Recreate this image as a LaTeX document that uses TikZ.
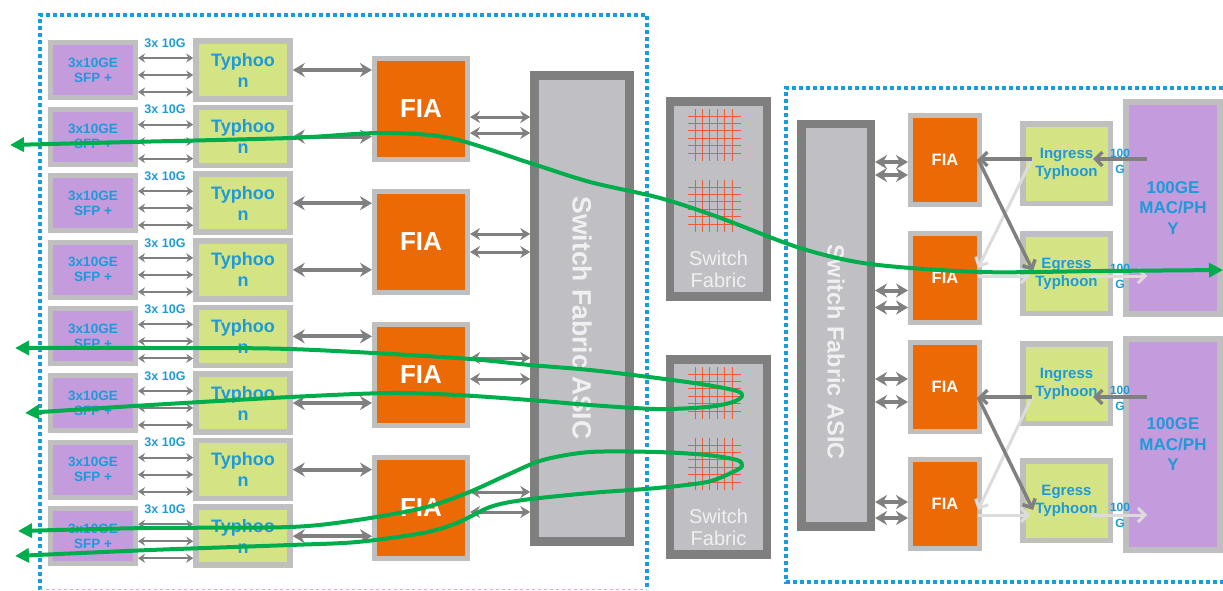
\documentclass[tikz,border=0pt]{standalone}
\usepackage{fontspec}
\setmainfont{Liberation Sans}
\usetikzlibrary{arrows.meta, calc}

\definecolor{dotblue}{HTML}{1A9BDB}
\definecolor{txtblue}{HTML}{1F9AD8}
\definecolor{rimgray}{HTML}{BFBFBF}
\definecolor{darkrim}{HTML}{7F7F7F}
\definecolor{asicgray}{HTML}{C0BFC4}
\definecolor{sfppurple}{HTML}{C49BDD}
\definecolor{typhgreen}{HTML}{D4E384}
\definecolor{fiaorange}{HTML}{EC6A05}
\definecolor{gridred}{HTML}{EE5B3A}
\definecolor{pathgreen}{HTML}{00AD4C}
\definecolor{arrgray}{HTML}{808080}
\definecolor{faintgray}{HTML}{DCDCDC}

\begin{document}
\begin{tikzpicture}[x=1pt, y=-1pt,
    >=Stealth,
    box/.style={inner sep=0pt, outer sep=auto, line width=5pt, draw=rimgray},
    sfp/.style={box, fill=sfppurple, minimum width=85pt, minimum height=55pt,
                font=\bfseries\fontsize{13.5}{15}\selectfont, text=txtblue, align=center},
    typh/.style={box, line width=5.5pt, fill=typhgreen, minimum width=94pt,
                 minimum height=58pt, font=\bfseries\fontsize{18}{21}\selectfont,
                 text=txtblue, align=center},
    typr/.style={typh, minimum width=87.5pt, minimum height=79.5pt,
                 font=\bfseries\fontsize{15}{18}\selectfont},
    fia/.style={box, fill=fiaorange, minimum width=93pt, minimum height=101pt,
                font=\bfseries\fontsize{26}{30}\selectfont, text=white},
    fiar/.style={fia, minimum width=69pt, minimum height=89pt,
                 font=\bfseries\fontsize{16.5}{19}\selectfont},
    asic/.style={box, draw=darkrim, fill=asicgray, line width=9pt},
    mac/.style={box, line width=6pt, fill=sfppurple, minimum width=94pt,
                minimum height=212pt, font=\bfseries\fontsize{17}{20.5}\selectfont,
                text=txtblue, align=center},
    lbl/.style={inner sep=0pt, font=\bfseries\fontsize{12.5}{14}\selectfont, text=txtblue},
    glbl/.style={inner sep=0pt, font=\bfseries\fontsize{12}{16}\selectfont,
                 text=txtblue, align=center},
    fabtxt/.style={inner sep=0pt, text=white!94!black, align=center,
                   font=\fontsize{20}{22}\selectfont},
    gridln/.style={draw=gridred, line width=1pt},
    thinarr/.style={draw=arrgray, line width=1.9pt,
                    {Stealth[length=7pt,width=9pt]}-{Stealth[length=7pt,width=9pt]}},
    thickarr/.style={draw=arrgray, line width=4pt,
                     {Stealth[length=12pt,width=14pt]}-{Stealth[length=12pt,width=14pt]}},
    midarr/.style={draw=arrgray, line width=3pt,
                   {Stealth[length=10pt,width=12pt]}-{Stealth[length=10pt,width=12pt]}},
    darr/.style={draw=arrgray, line width=3.5pt, -{Straight Barb[length=7pt,width=14pt]}},
    lightarr/.style={darr, draw=faintgray, line width=3pt},
    flow/.style={draw=pathgreen, line width=4pt, line cap=round,
                 {Triangle[length=14pt,width=14pt]}-{Triangle[length=14pt,width=14pt]}},
    dotbord/.style={draw=dotblue, line width=4pt, dash pattern=on 4pt off 3pt}
  ]
  \useasboundingbox (0,0) rectangle (1223,590);

  % linecard frames
  \draw[dotbord] (40,590) -- (40,15) -- (647,15) -- (647,590);
  \draw[draw=dotblue!50, line width=1pt, dashed] (40,589) -- (647,589);
  \draw[dotbord] (1230,88) -- (786,88) -- (786,582) -- (1230,582);

  % left card
  \node[asic, minimum width=94.5pt, minimum height=466pt] (asicL) at (582,308) {};
  \node[fabtxt, rotate=-90, font=\bfseries\fontsize{26.5}{30}\selectfont] (asicLt) at (582,318)
    {Switch Fabric ASIC};
  \foreach \k in {0,...,3}
    \node[fia] (fia\k) at (421,109+133*\k) {FIA};

  \foreach \i in {0,...,7}{
    \pgfmathsetmacro{\ty}{40+66.6*\i}
    \pgfmathtruncatemacro{\k}{\i/2}
    \node[sfp] (sfp\i) at (93,\ty+30) {3x10GE\\SFP +};
    \node[typh] (ty\i) at (243,\ty+30) {Typhoo\\n};
    \node[lbl] (lb\i) at (165,\ty+3) {3x 10G};
    \foreach \d in {-12,5,22}
      \draw[thinarr] ($(sfp\i.east)+(0,\d)$) -- ($(ty\i.west)+(0,\d)$);
    \draw[thickarr] (ty\i.east) -- (ty\i.east -| fia\k.west);
  }

  \foreach \k/\a in {0/8,0/24,1/-8,1/10,2/-17,2/4,3/-16,3/4}
    \draw[midarr] ($(fia\k.east)+(0,\a)$) -- ($(fia\k.east -| asicL.west)+(0,\a)$);

  % fabric cards
  \foreach \s/\cy in {sf1/199,sf2/457}{
    \node[asic, line width=8.5pt, minimum width=97pt, minimum height=195pt] (\s) at (718.5,\cy) {};
    \node[fabtxt] (\s t) at ($(\s.center)+(0,70)$) {Switch\\Fabric};
    \foreach \g in {-90,-19}
      \foreach \v in {0,...,5}{
        \draw[gridln] ($(\s.center)+(-23.5+7.4*\v,\g)$) -- ++(0,52);
        \draw[gridln] ($(\s.center)+(-30.5,\g+7+7.4*\v)$) -- ++(53,0);
      }
  }

  % right card
  \node[asic, line width=8.5pt, minimum width=69.5pt, minimum height=402.5pt] (asicR) at (836,325) {};
  \node[fabtxt, rotate=-90, font=\bfseries\fontsize{23.5}{27}\selectfont] (asicRt) at (836,352)
    {Switch Fabric ASIC};
  \foreach \n/\cy in {1/160,2/277.5,3/387,4/504}
    \node[fiar] (fr\n) at (945,\cy) {FIA};
  \foreach \n/\a in {1/2,1/15,2/13,2/30,3/-8,3/15,4/-2,4/14}
    \draw[thickarr] ($(fr\n.west -| asicR.east)+(0,\a)$) -- ($(fr\n.west)+(0,\a)$);

  \node[typr] (in1) at (1066.5,163.5) {Ingress\\Typhoon};
  \node[typr] (eg1) at (1066.5,273.5) {Egress\\Typhoon};
  \node[typr] (in2) at (1066.5,383.5) {Ingress\\Typhoon};
  \node[typr] (eg2) at (1066.5,500.5) {Egress\\Typhoon};
  \node[mac] (mac1) at (1173,208) {100GE\\MAC/PH\\Y};
  \node[mac, minimum height=211pt] (mac2) at (1173,444.5) {100GE\\MAC/PH\\Y};

  \foreach \j/\fu/\fl/\yi/\ye/\yd in {1/fr1/fr2/159/276/268, 2/fr3/fr4/397/515/510}{
    \draw[lightarr] ($(in\j.west |- 0,\yi)+(12,0)$) -- ($(\fl.east |- 0,\yd)+(-4,0)$);
    \draw[lightarr] ($(\fl.east |- 0,\ye)+(-4,0)$) -- ($(eg\j.west |- 0,\ye)+(10,0)$);
    \draw[lightarr] ($(eg\j.east |- 0,\ye)+(-22,0)$) -- ($(mac\j.west |- 0,\ye)+(24,0)$);
    \draw[darr] ($(mac\j.west |- 0,\yi)+(24,0)$) -- ($(in\j.east |- 0,\yi)+(-20,0)$);
    \draw[darr] ($(in\j.west |- 0,\yi)+(12,0)$) -- ($(\fu.east |- 0,\yi)+(-4,0)$);
    \draw[darr] ($(\fu.east |- 0,\yi)+(-4,0)$) -- ($(eg\j.west |- 0,\ye)+(13,-5)$);
  }
  \node[glbl] (g1) at (1120,161) {100\\G};
  \node[glbl] (g2) at (1120,276) {100\\G};
  \node[glbl] (g3) at (1120,398) {100\\G};
  \node[glbl] (g4) at (1120,515) {100\\G};

  % traffic paths
  \draw[flow] plot[smooth, tension=0.5] coordinates {(10,145) (130,142) (290,138)
    (380,133) (450,138) (530,163) (590,182) (660,198) (718,217) (800,248) (870,264)
    (980,272) (1100,271) (1223,270)};
  \draw[flow] plot[smooth, tension=0.5] coordinates {(15,348) (150,348) (290,349)
    (457,358) (530,365) (590,370) (657,378) (707,385) (737,391) (742,396) (733,402)
    (707,407) (657,409) (590,405) (530,400) (457,395) (390,393) (290,397) (150,405)
    (25,413)};
  \draw[flow] plot[smooth, tension=0.5] coordinates {(18,531) (150,528) (290,527)
    (357,520) (423,508) (467,493) (507,475) (543,460) (590,452) (657,452) (707,455)
    (737,460) (742,466) (733,472) (707,482) (657,488) (590,493) (523,500) (490,507)
    (457,523) (423,533) (357,542) (290,545) (150,550) (15,556)};
\end{tikzpicture}
\end{document}
